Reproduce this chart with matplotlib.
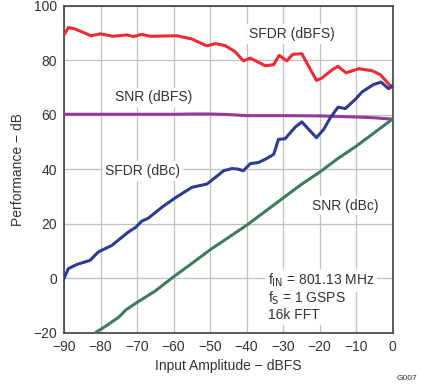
import matplotlib
matplotlib.use("Agg")
import matplotlib.pyplot as plt

plt.rcParams["font.family"] = ["Liberation Sans", "DejaVu Sans"]

# SFDR (dBFS)
sfdr_fs_x = [-90, -88.8, -87, -82.6, -80, -76.6, -72.8, -71, -68.7, -66.4, -59.1, -55,
             -50.9, -48.6, -45.9, -43.2, -40.9, -39, -34.9, -32.6, -31.1, -29, -27.4,
             -24.9, -20.9, -19.4, -16.6, -15, -12.8, -9.3, -5.7, -3.4, -0.6, 0]
sfdr_fs_y = [89.3, 92, 91.5, 89, 89.7, 88.8, 89.3, 88.7, 89.5, 88.8, 89, 87.8,
             85.3, 86.1, 85.4, 83.2, 79.8, 80.8, 78, 78.4, 81.8, 79.8, 82.2,
             82.4, 72.6, 73.5, 76.5, 77.8, 75.4, 76.9, 76.2, 74.7, 70.5, 70.8]

# SFDR (dBc)
sfdr_c_x = [-90, -88.8, -86.5, -82.9, -80.6, -76.9, -72.4, -70.5, -68.7, -66.9, -63.2,
            -59.6, -55, -50.9, -48.6, -46.3, -44, -42.4, -40.9, -39, -36.8, -34.9,
            -32.6, -31.3, -29.5, -26.7, -24.9, -20.9, -18.9, -17.1, -15, -13, -10.3,
            -8.4, -5.3, -3.2, -1.2, 0]
sfdr_c_y = [0, 3.6, 5.1, 6.6, 9.7, 12.1, 17, 18.6, 21, 22.1, 26.1,
            29.5, 33.4, 34.6, 37, 39.5, 40.3, 40.1, 39.5, 42.1, 42.5, 43.7,
            45.5, 51, 51.2, 55.5, 57.4, 51.6, 54.7, 58.9, 62.8, 62.3, 65.6,
            68.4, 71.1, 72, 69.6, 70.5]

# SNR (dBFS)
snr_fs_x = [-90, -80, -70, -60, -55, -50, -45, -40, -30, -20, -15, -10, -5, 0]
snr_fs_y = [60.2, 60.2, 60.2, 60.2, 60.3, 60.3, 60.1, 59.7, 59.7, 59.6, 59.4, 59.2, 58.9, 58.4]

# SNR (dBc)
snr_c_x = [-81.5, -78, -75, -73, -70, -65, -60, -55, -50, -45, -40, -35, -30, -25,
           -20, -15, -10, -5, 0]
snr_c_y = [-20, -17, -14.2, -11.5, -8.8, -4.6, 0.6, 5.5, 10.5, 15, 19.5, 24.5, 29.5,
           34.5, 39, 44, 48.5, 53.5, 58.5]

fig = plt.figure(figsize=(4.21, 3.84), dpi=100)
ax = fig.add_axes([0.152, 0.133, 0.781, 0.852])

lw = 2.2
ax.plot(sfdr_fs_x, sfdr_fs_y, color="#ee2a33", lw=lw, zorder=3)
ax.plot(snr_fs_x, snr_fs_y, color="#953a9c", lw=lw, zorder=3)
ax.plot(sfdr_c_x, sfdr_c_y, color="#2e3a93", lw=lw, zorder=4)
ax.plot(snr_c_x, snr_c_y, color="#3d7d5c", lw=lw, zorder=3)

ax.set_xlim(-90, 0)
ax.set_ylim(-20, 100)
ax.set_xticks(range(-90, 1, 10))
ax.set_yticks(range(-20, 101, 20))
ax.grid(True, color="#c0c0c0", lw=0.9)
ax.set_axisbelow(True)
for s in ax.spines.values():
    s.set_color("#404040")
    s.set_linewidth(1.2)
ax.tick_params(length=0, labelsize=10, colors="#333333", pad=5)
ax.set_xlabel("Input Amplitude − dBFS", fontsize=10, color="#333333", labelpad=4)
ax.set_ylabel("Performance − dB", fontsize=10, color="#333333", labelpad=6)

box = dict(facecolor="white", edgecolor="none", pad=2)
ax.text(-27.5, 89.6, "SFDR (dBFS)", fontsize=10, color="#333333", ha="center", va="center", bbox=box, zorder=5)
ax.text(-65.6, 66.4, "SNR (dBFS)", fontsize=10, color="#333333", ha="center", va="center", bbox=box, zorder=5)
ax.text(-68.4, 39.4, "SFDR (dBc)", fontsize=10, color="#333333", ha="center", va="center", bbox=box, zorder=5)
ax.text(-13, 26.7, "SNR (dBc)", fontsize=10, color="#333333", ha="center", va="center", bbox=box, zorder=5)
ax.text(-34.2, -0.6, "f$_{\\rm IN}$ = 801.13 MHz", fontsize=10, color="#333333", ha="left", va="center", bbox=box, zorder=5)
ax.text(-34.2, -7.2, "f$_{\\rm S}$ = 1 GSPS", fontsize=10, color="#333333", ha="left", va="center", bbox=box, zorder=5)
ax.text(-34.2, -13.4, "16k FFT", fontsize=10, color="#333333", ha="left", va="center", bbox=box, zorder=5)

fig.text(0.992, 0.006, "G007", fontsize=6, color="#333333", ha="right", va="bottom")

fig.savefig("out.png", dpi=100)
